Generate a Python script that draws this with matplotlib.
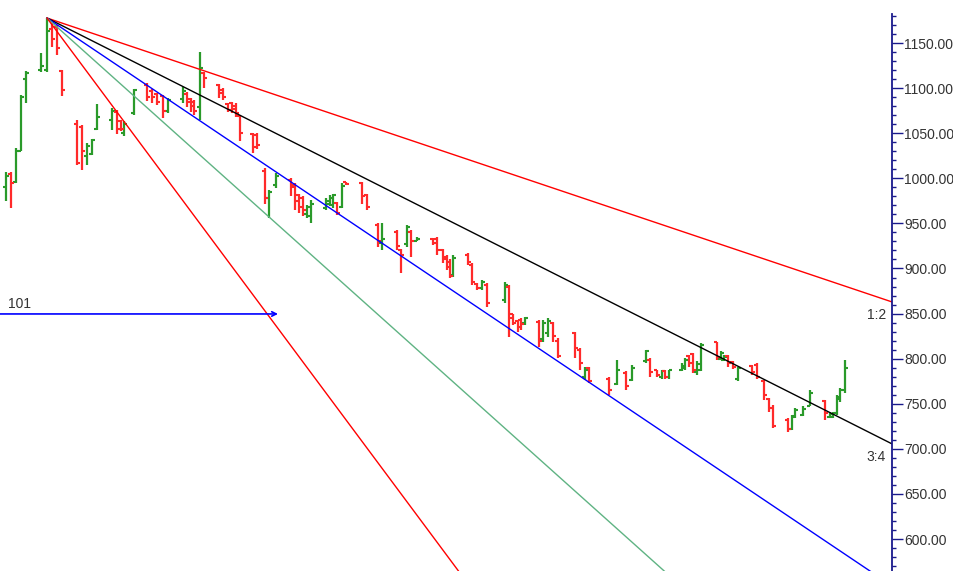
import numpy as np
import matplotlib
matplotlib.use("Agg")
import matplotlib.pyplot as plt
from matplotlib.ticker import MultipleLocator, FixedLocator, FormatStrFormatter

plt.rcParams['font.family'] = ['Liberation Sans', 'DejaVu Sans']

# bar positions (in pixel columns) and OHLC prices
bar_x = [6, 11, 16, 21, 26, 41, 47, 52, 57, 62,
         77, 82, 87, 92, 97, 112, 117, 121, 124, 134,
         147, 152, 157, 163, 168, 183, 187, 191, 194, 200,
         204, 219, 223, 228, 232, 236, 240, 253, 257, 265,
         269, 276, 291, 295, 299, 303, 307, 311, 326, 330,
         333, 337, 342, 346, 362, 367, 378, 382, 397, 401,
         407, 411, 417, 433, 437, 443, 447, 450, 453, 468,
         472, 477, 482, 487, 505, 509, 513, 518, 521, 525,
         539, 543, 548, 553, 558, 575, 580, 585, 589, 609,
         617, 626, 632, 646, 650, 657, 662, 665, 669, 682,
         685, 689, 693, 697, 701, 717, 721, 724, 728, 733,
         738, 752, 757, 764, 769, 773, 788, 792, 795, 803,
         810, 825, 830, 833, 837, 840, 845]
opens = [990, 1005, 996, 1030, 1110, 1120, 1120, 1165, 1168, 1119,
         1060, 1057, 1025, 1027, 1055, 1065, 1074, 1063, 1050, 1072,
         1104, 1097, 1093, 1091, 1075, 1088, 1094, 1088, 1085, 1079,
         1117, 1104, 1098, 1082, 1084, 1080, 1069, 1049, 1048, 1008,
         978, 993, 998, 993, 982, 978, 960, 958, 967, 972,
         970, 973, 968, 996, 995, 982, 948, 928, 940, 921,
         927, 940, 931, 933, 933, 920, 913, 907, 893, 915,
         904, 883, 878, 882, 865, 880, 849, 842, 843, 840,
         841, 822, 828, 840, 820, 828, 810, 780, 790, 778,
         772, 784, 776, 797, 799, 787, 780, 786, 780, 787,
         790, 803, 805, 785, 788, 818, 800, 798, 803, 796,
         778, 792, 793, 775, 755, 745, 732, 722, 737, 738,
         748, 753, 735, 735, 740, 755, 765]
highs = [1007, 1007, 1034, 1092, 1119, 1139, 1178, 1172, 1170, 1120,
         1065, 1059, 1039, 1044, 1082, 1078, 1076, 1065, 1063, 1099,
         1106, 1099, 1095, 1092, 1089, 1101, 1096, 1089, 1087, 1140,
         1118, 1105, 1100, 1083, 1085, 1083, 1070, 1050, 1050, 1011,
         987, 1006, 1000, 995, 983, 980, 970, 976, 978, 982,
         983, 974, 995, 996, 996, 983, 950, 950, 943, 922,
         948, 943, 935, 934, 935, 922, 915, 910, 915, 917,
         906, 884, 887, 884, 885, 882, 850, 843, 845, 846,
         843, 843, 845, 841, 823, 830, 812, 791, 791, 780,
         799, 786, 793, 810, 801, 788, 788, 788, 788, 795,
         801, 804, 806, 797, 817, 819, 808, 804, 804, 797,
         791, 793, 795, 776, 756, 749, 734, 738, 745, 747,
         765, 754, 741, 741, 760, 767, 799]
lows = [975, 967, 995, 1030, 1083, 1118, 1118, 1146, 1137, 1091,
        1015, 1009, 1015, 1026, 1054, 1054, 1049, 1052, 1047, 1070,
        1086, 1084, 1081, 1067, 1072, 1084, 1079, 1074, 1070, 1065,
        1100, 1089, 1087, 1074, 1072, 1068, 1041, 1028, 1033, 972,
        956, 989, 980, 965, 961, 958, 956, 950, 965, 969,
        967, 959, 967, 993, 972, 965, 924, 921, 921, 895,
        924, 913, 930, 926, 915, 906, 898, 889, 891, 904,
        882, 876, 876, 857, 862, 824, 837, 830, 832, 837,
        813, 819, 824, 819, 801, 801, 788, 776, 773, 760,
        771, 765, 775, 795, 780, 780, 778, 778, 778, 786,
        788, 791, 784, 782, 786, 799, 799, 797, 791, 789,
        775, 782, 778, 754, 741, 723, 719, 721, 734, 736,
        747, 732, 734, 734, 738, 752, 762]
closes = [1003, 995, 1030, 1090, 1117, 1125, 1163, 1155, 1144, 1098,
          1017, 1030, 1036, 1042, 1068, 1075, 1055, 1055, 1060, 1098,
          1090, 1090, 1085, 1075, 1087, 1097, 1085, 1080, 1075, 1122,
          1111, 1095, 1090, 1076, 1077, 1072, 1050, 1035, 1037, 978,
          985, 1003, 990, 975, 968, 965, 968, 972, 975, 978,
          982, 962, 992, 994, 980, 968, 930, 933, 925, 915,
          946, 930, 933, 928, 920, 910, 902, 892, 912, 907,
          885, 878, 885, 862, 882, 845, 840, 835, 838, 845,
          820, 840, 842, 825, 803, 812, 795, 788, 775, 765,
          787, 770, 790, 808, 785, 782, 786, 780, 787, 792,
          798, 795, 788, 794, 815, 802, 806, 802, 795, 791,
          790, 785, 780, 760, 745, 725, 722, 735, 743, 744,
          762, 740, 739, 740, 757, 765, 790]

# Gann fan
fan_x0, fan_y0 = 47, 1177.7
fan_unit = 0.745          # price per bar-pixel for the 1:1 line
fan_ratios = [0.5, 0.75, 1.0, 4 / 3, 2.0]
fan_colors = ['#ff0000', '#000000', '#0000ff', '#5fb383', '#ff0000']
fan_labels = ['1:2', '3:4', '', '', '']

marker_level = 849.6
marker_text = '101'

fig = plt.figure(figsize=(9.54, 5.71), dpi=100)
ax = fig.add_axes([0, 0, 892 / 954, 1])
ax.set_xlim(0, 892)
ax.set_ylim(564.6, 1197.7)

x = np.array(bar_x, dtype=float)
o = np.array(opens, dtype=float)
h = np.array(highs, dtype=float)
l = np.array(lows, dtype=float)
c = np.array(closes, dtype=float)
up = c >= o
for mask, col in [(up, '#2a9a2a'), (~up, '#ff2a2a')]:
    ax.vlines(x[mask], l[mask], h[mask], color=col, lw=1.6)
    ax.hlines(o[mask], x[mask] - 3, x[mask], color=col, lw=1.5)
    ax.hlines(c[mask], x[mask], x[mask] + 3, color=col, lw=1.5)

xs = np.array([fan_x0, 892])
for r, col, lab in zip(fan_ratios, fan_colors, fan_labels):
    ys = fan_y0 - r * fan_unit * (xs - fan_x0)
    ax.plot(xs, ys, color=col, lw=1.0)
    if lab:
        ax.text(886, ys[1] - 7, lab, ha='right', va='top', fontsize=10, color='#333333')

ax.annotate('', xy=(278, marker_level), xytext=(0, marker_level),
            arrowprops=dict(arrowstyle='->', color='#0000ff', lw=1.2,
                            shrinkA=0, shrinkB=0, mutation_scale=8))
ax.text(8, marker_level + 3, marker_text, fontsize=10, color='#333333', va='bottom')

for s in ['left', 'top', 'bottom']:
    ax.spines[s].set_visible(False)
ax.spines['right'].set_color('#1a1a8c')
ax.spines['right'].set_linewidth(1.3)
ax.spines['right'].set_bounds(564.6, 1182)
ax.set_xticks([])
ax.yaxis.tick_right()
ax.yaxis.set_major_locator(MultipleLocator(50))
ax.yaxis.set_minor_locator(FixedLocator(np.arange(570, 1181, 10)))
ax.yaxis.set_major_formatter(FormatStrFormatter('%.2f'))
ax.tick_params(axis='y', which='major', length=8, width=1, color='#1a1a8c',
               labelsize=10, labelcolor='#333333', pad=1)
ax.tick_params(axis='y', which='minor', length=3, width=1, color='#1a1a8c')

fig.savefig('out.png', dpi=100)
